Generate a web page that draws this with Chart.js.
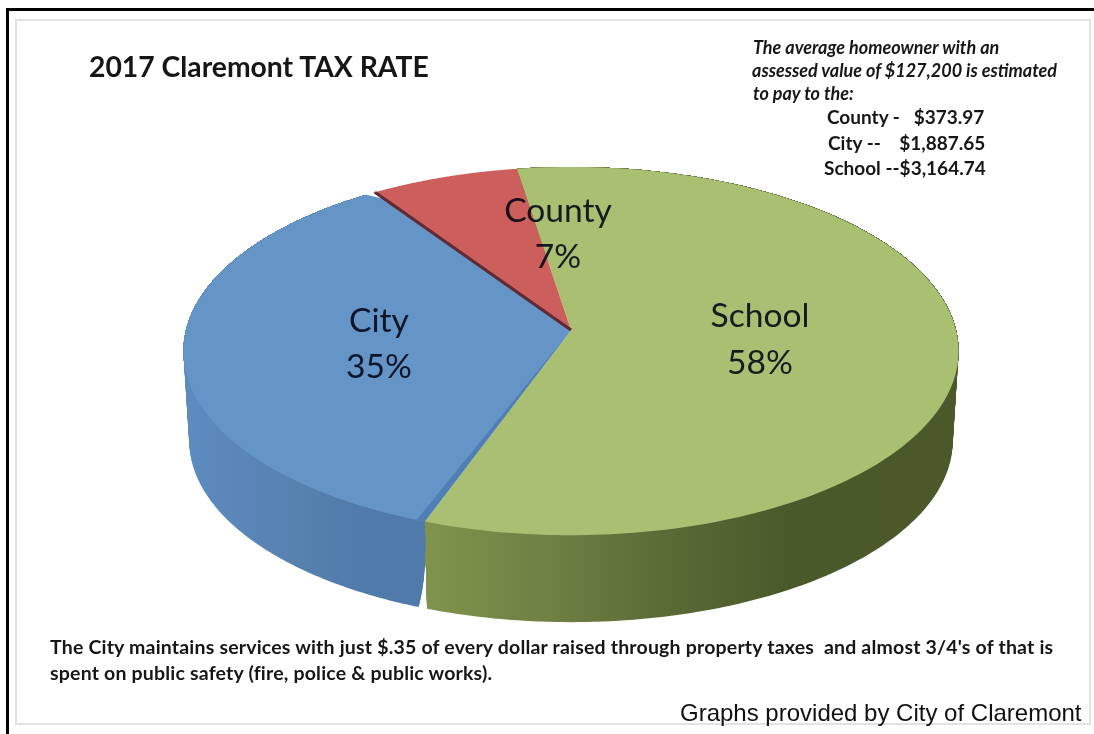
<!DOCTYPE html>
<html>
<head>
<meta charset="utf-8">
<title>2017 Claremont TAX RATE</title>
<script src="https://cdn.jsdelivr.net/npm/chart.js@4"></script>
<style>
html, body { margin: 0; padding: 0; background: #fff; }
#wrap { position: relative; width: 1094px; height: 734px; overflow: hidden; }
#pie { position: absolute; left: 0; top: 0; filter: blur(0.6px); }
.line { position: absolute; }
.txt { position: absolute; white-space: pre; font-family: Lato, sans-serif; color: #161616; line-height: 1; filter: blur(0.5px); }
.b { font-weight: 700; }
.note { font-weight: 700; font-style: italic; font-size: 18px; }
.amt { font-weight: 700; font-size: 19px; }
.foot { font-weight: 700; font-size: 19.5px; letter-spacing: 0.19px; }
.lab { font-size: 33.6px; color: rgba(0, 5, 20, .88); transform: translateX(-50%); }
</style>
</head>
<body>
<div id="wrap">
	<div class="line" style="left:15px;top:19px;width:1072px;height:702px;border:2px solid #e2e2e2"></div>
	<canvas id="pie" width="1094" height="734"></canvas>
	<div class="line" style="left:6px;top:8px;width:1088px;height:3px;background:#000"></div>
	<div class="line" style="left:6px;top:8px;width:3px;height:726px;background:#000"></div>

	<div class="txt b" style="left:89px;top:52px;font-size:28.3px">2017 Claremont TAX RATE</div>

	<div class="txt note" style="left:753px;top:38px">The average homeowner with an</div>
	<div class="txt note" style="left:752px;top:61px">assessed value of $127,200 is estimated</div>
	<div class="txt note" style="left:753px;top:84px">to pay to the:</div>
	<div class="txt amt" style="left:827px;top:107px">County -   $373.97</div>
	<div class="txt amt" style="left:828px;top:133px">City --    $1,887.65</div>
	<div class="txt amt" style="left:824px;top:158px">School --$3,164.74</div>

	<div class="txt lab" style="left:760px;top:298px">School</div>
	<div class="txt lab" style="left:760px;top:345px">58%</div>
	<div class="txt lab" style="left:379px;top:303px">City</div>
	<div class="txt lab" style="left:379px;top:349px">35%</div>
	<div class="txt lab" style="left:558px;top:193px">County</div>
	<div class="txt lab" style="left:558px;top:239px">7%</div>

	<div class="txt foot" style="left:50px;top:637px">The City maintains services with just $.35 of every dollar raised through property taxes  and almost 3/4's of that is</div>
	<div class="txt foot" style="left:50px;top:663px">spent on public safety (fire, police &amp; public works).</div>

	<div class="txt" style="left:680px;top:701px;font-family:'Liberation Sans',sans-serif;font-size:24px;color:#111;filter:none">Graphs provided by City of Claremont</div>
</div>

<script>
const categories = ['School', 'City', 'County'];
const shares = [58, 35, 7];

const topColors = ['#a9c073', '#6594c6', '#cc5f5c'];
//	side wall colours, left to right
const wallColors = [
	['#7f934c', '#6f8143', '#5b6b36', '#4b5a2a', '#4a582a'],
	['#5e8cc0', '#5a86b8', '#5680ad', '#4f7aaa', '#4f7aaa']
];

//	the tilted disc : chart radius squeezed to an ellipse, near side drawn larger
const squeezeX = 385 / 330;
const squeezeY = 181.7 / 330;
const nearGrow = 0.1146;
const wallDrop = 90;
const wallShrink = 0.985;
const deg = Math.PI / 180;

function tilted(arc, angle, frac, drop) {
	var w = 1 - nearGrow * Math.sin(angle);
	var r = arc.outerRadius * frac;
	return [
		arc.x + r * squeezeX * Math.cos(angle) / w,
		arc.y + drop + r * squeezeY * Math.sin(angle) / w
	];
}

function sweep(ctx, arc, from, to, frac, drop) {
	var steps = 200;
	for (var i = 0; i <= steps; i++) {
		var p = tilted(arc, from + (to - from) * i / steps, frac, drop);
		ctx.lineTo(p[0], p[1]);
	}
}

//	wall is filled level by level so the outline stays closed at both ends of the ellipse
function fillWall(ctx, arc, cut) {
	var levels = 45;
	for (var j = 1; j <= levels; j++) {
		var t = j / levels;
		ctx.beginPath();
		sweep(ctx, arc, arc.startAngle, arc.endAngle, 1, 0);
		sweep(ctx, arc, arc.endAngle, arc.startAngle + cut * t * t * t, 1 - (1 - wallShrink) * t, wallDrop * t);
		ctx.closePath();
		ctx.fill();
	}
}

const disc3d = {
	id: 'disc3d',
	beforeDatasetDraw(chart, args) {
		const ctx = chart.ctx;
		const arcs = chart.getDatasetMeta(args.index).data;
		const school = arcs[0], city = arcs[1], county = arcs[2];

		function wallFill(idx) {
			var g = idx === 0 ? ctx.createLinearGradient(427, 0, 900, 0) : ctx.createLinearGradient(180, 0, 427, 0);
			var list = wallColors[idx];
			list.forEach((c, i) => g.addColorStop(i / (list.length - 1), c));
			return g;
		}

		ctx.save();

		//	side walls
		ctx.fillStyle = wallFill(0);
		fillWall(ctx, school, 0);

		var cityCut = 1.2 * deg;
		ctx.fillStyle = wallFill(1);
		fillWall(ctx, city, cityCut);

		//	top faces
		arcs.forEach((arc, i) => {
			ctx.fillStyle = topColors[i];
			ctx.beginPath();
			ctx.moveTo(arc.x, arc.y);
			sweep(ctx, arc, arc.startAngle, arc.endAngle, 1, 0);
			ctx.closePath();
			ctx.fill();
		});

		//	city is pulled away a little : darker cut face along school, notch by county
		ctx.fillStyle = '#4f7fb4';
		ctx.beginPath();
		ctx.moveTo(city.x, city.y);
		sweep(ctx, city, city.startAngle, city.startAngle + cityCut, 1, 0);
		ctx.closePath();
		ctx.fill();

		ctx.fillStyle = '#ffffff';
		ctx.beginPath();
		sweep(ctx, city, city.endAngle - 1.5 * deg, city.endAngle + 0.1 * deg, 1.005, 0);
		var near = tilted(city, city.endAngle, 0.96, 0);
		ctx.lineTo(near[0], near[1]);
		ctx.closePath();
		ctx.fill();

		//	county dark cut edge
		var edge = tilted(county, county.startAngle + 0.3 * deg, 1, 0);
		ctx.strokeStyle = '#5e2a36';
		ctx.lineWidth = 3.2;
		ctx.beginPath();
		ctx.moveTo(county.x, county.y);
		ctx.lineTo(edge[0], edge[1]);
		ctx.stroke();

		ctx.restore();
		return false;
	}
};

const ctx = document.getElementById('pie').getContext('2d');
const pieChart = new Chart(ctx, {
	type: 'pie',
	data: {
		labels: categories,
		datasets: [{
			data: shares,
			backgroundColor: topColors,
			borderWidth: 0
		}]
	},
	options: {
		responsive: false,
		animation: false,
		rotation: -9,
		layout: { padding: { left: 48, bottom: 74 } },
		plugins: {
			legend: { display: false },
			tooltip: { enabled: false }
		}
	},
	plugins: [disc3d]
});
</script>
</body>
</html>
